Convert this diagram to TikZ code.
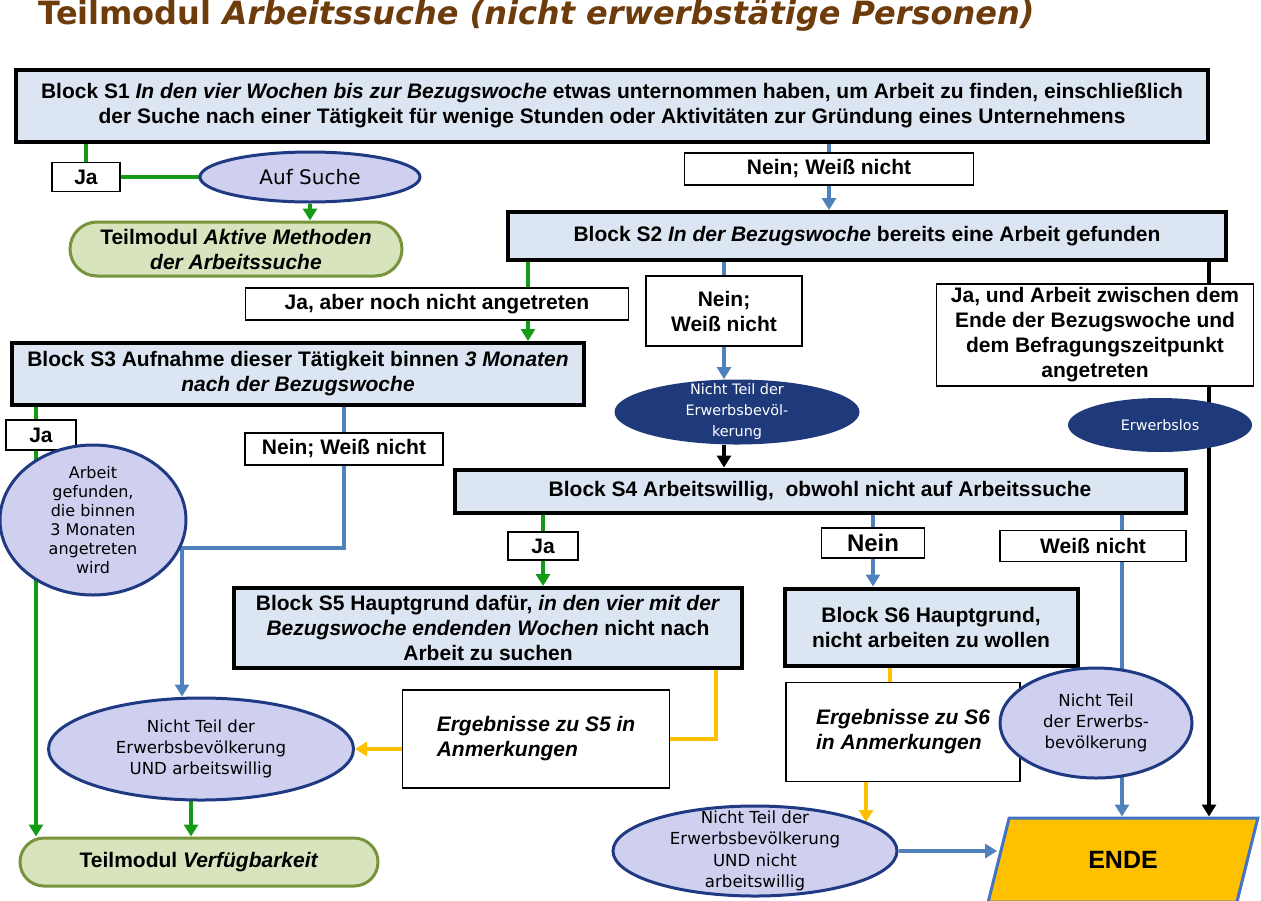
\documentclass[tikz,border=0pt]{standalone}
\usepackage{fontspec}
\setmainfont{Liberation Sans}
\newfontfamily\verdana{DejaVu Sans}
\usetikzlibrary{arrows.meta, positioning, shapes.geometric, shapes.misc, backgrounds}
\definecolor{TitleBrown}{HTML}{6E3B0B}
\definecolor{BlockFill}{HTML}{DCE6F2}
\definecolor{OvalFill}{HTML}{CFD0F0}
\definecolor{OvalLine}{HTML}{1F3A82}
\definecolor{Navy}{HTML}{1F3A7A}
\definecolor{ModulFill}{HTML}{D7E4BD}
\definecolor{ModulLine}{HTML}{77933C}
\definecolor{GreenLine}{HTML}{159A15}
\definecolor{BlueLine}{HTML}{4F81BD}
\definecolor{OrangeLine}{HTML}{FFC000}
\definecolor{EndeLine}{HTML}{4472C4}

\begin{document}
\begin{tikzpicture}[x=0.5pt, y=-0.5pt,
    block/.style={rectangle, draw=black, fill=BlockFill, line width=2pt, align=center, inner sep=0pt, font=\bfseries\fontsize{10.5}{12.5}\selectfont},
    answer/.style={rectangle, draw=black, fill=white, line width=0.6pt, align=center, inner sep=0pt, font=\bfseries\fontsize{10.5}{12.5}\selectfont},
    note/.style={rectangle, draw=black, fill=white, line width=0.6pt, align=left, inner sep=0pt, font=\bfseries\itshape\fontsize{10.5}{12.5}\selectfont},
    oval/.style={ellipse, draw=OvalLine, fill=OvalFill, line width=1.5pt, align=center, inner sep=-40pt, font=\verdana\fontsize{8.3}{10.7}\selectfont},
    status/.style={ellipse, fill=Navy, text=white, align=center, inner sep=-40pt, font=\verdana\fontsize{7.2}{10.5}\selectfont},
    modul/.style={rounded rectangle, draw=ModulLine, fill=ModulFill, line width=1.5pt, align=center, inner sep=0pt, font=\bfseries\fontsize{10.5}{12.5}\selectfont},
    ende/.style={trapezium, trapezium left angle=76, trapezium right angle=104, draw=EndeLine, fill=OrangeLine, line width=1.5pt, font=\bfseries\fontsize{12.5}{14}\selectfont},
    gline/.style={line width=2.2pt, GreenLine},
    garrow/.style={-{Triangle[length=6pt, width=7pt]}, line width=2.2pt, GreenLine},
    barrow/.style={-{Triangle[length=6pt, width=7pt]}, line width=2.2pt, BlueLine},
    karrow/.style={-{Triangle[length=6pt, width=7pt]}, line width=2.2pt, black},
    oline/.style={line width=2.2pt, OrangeLine},
    oarrow/.style={-{Triangle[length=6pt, width=7pt]}, line width=2.2pt, OrangeLine},
]
\useasboundingbox (0,0) rectangle (1261,900);

% Title
\node[anchor=west, inner sep=0pt, text=TitleBrown, font=\verdana\bfseries\fontsize{16}{18}\selectfont] (titel) at (38,16) {Teilmodul \textit{Arbeitssuche (nicht erwerbstätige Personen)}};

% Blocks
\node[block, minimum width=596pt, minimum height=36pt] (s1) at (612,106) {Block S1 \textit{In den vier Wochen bis zur Bezugswoche} etwas unternommen haben, um Arbeit zu finden, einschließlich\\der Suche nach einer Tätigkeit für wenige Stunden oder Aktivitäten zur Gründung eines Unternehmens};
\node[block, minimum width=359pt, minimum height=24pt] (s2) at (867,236) {Block S2 \textit{In der Bezugswoche} bereits eine Arbeit gefunden};
\node[block, minimum width=286pt, minimum height=31pt] (s3) at (298,374) {Block S3 Aufnahme dieser Tätigkeit binnen \textit{3 Monaten}\\\textit{nach der Bezugswoche}};
\node[block, minimum width=365.5pt, minimum height=21.5pt] (s4) at (820,491) {Block S4 Arbeitswillig,\ \ obwohl nicht auf Arbeitssuche};
\node[block, minimum width=254pt, minimum height=40pt] (s5) at (488,628) {Block S5 Hauptgrund dafür, \textit{in den vier mit der}\\\textit{Bezugswoche endenden Wochen} nicht nach\\Arbeit zu suchen};
\node[block, minimum width=146.5pt, minimum height=38.5pt] (s6) at (931,627) {Block S6 Hauptgrund,\\nicht arbeiten zu wollen};

% Answers
\node[answer, minimum width=34pt, minimum height=14.5pt] (ja1) at (86,177) {Ja};
\node[answer, minimum width=144.5pt, minimum height=16pt] (nw1) at (829,169) {Nein; Weiß nicht};
\node[answer, minimum width=191.5pt, minimum height=16pt] (jaab) at (437,304) {Ja, aber noch nicht angetreten};
\node[answer, minimum width=78pt, minimum height=35pt] (nw2) at (724,311) {Nein;\\Weiß nicht};
\node[answer, minimum width=158.5pt, minimum height=51pt] (jaund) at (1095,335) {Ja, und Arbeit zwischen dem\\Ende der Bezugswoche und\\dem Befragungszeitpunkt\\angetreten};
\node[answer, minimum width=35pt, minimum height=15pt] (ja3) at (41,435) {Ja};
\node[answer, minimum width=99pt, minimum height=16pt] (nw3) at (344,449) {Nein; Weiß nicht};
\node[answer, minimum width=35pt, minimum height=14pt] (ja4) at (543,546) {Ja};
\node[answer, minimum width=51.5pt, minimum height=15pt, font=\bfseries\fontsize{12}{14}\selectfont] (nein4) at (873,543) {Nein};
\node[answer, minimum width=93pt, minimum height=15.5pt] (wn4) at (1093,546) {Weiß nicht};

% Notes
\node[note, minimum width=133.5pt, minimum height=49pt] (erg5) at (536,739) {Ergebnisse zu S5 in\\Anmerkungen};
\node[note, minimum width=117pt, minimum height=49.5pt] (erg6) at (903,732) {Ergebnisse zu S6\\in Anmerkungen};

% Ovals
\node[oval, minimum width=110pt, minimum height=25pt, font=\verdana\fontsize{10}{12}\selectfont] (such) at (310,177) {Auf Suche};
\node[oval, minimum width=93pt, minimum height=75pt, font=\verdana\fontsize{8}{9.5}\selectfont] (gef) at (93,520) {Arbeit\\gefunden,\\die binnen\\3 Monaten\\angetreten\\wird};
\node[oval, minimum width=152.5pt, minimum height=51pt] (ntw) at (201,749) {Nicht Teil der\\Erwerbsbevölkerung\\UND arbeitswillig};
\node[oval, minimum width=142pt, minimum height=45pt] (ntn) at (755,851) {Nicht Teil der\\Erwerbsbevölkerung\\UND nicht\\arbeitswillig};
\node[oval, minimum width=96pt, minimum height=55pt] (ntl2) at (1096,723) {Nicht Teil\\der Erwerbs-\\bevölkerung};
\node[status, minimum width=122.5pt, minimum height=32.5pt] (ntl1) at (737,412) {Nicht Teil der\\Erwerbsbevöl-\\kerung};
\node[status, minimum width=92pt, minimum height=27pt] (erwl) at (1160,425) {Erwerbslos};

% Teilmodule and end
\node[modul, minimum width=166pt, minimum height=27pt] (aktiv) at (236,249) {Teilmodul \textit{Aktive Methoden}\\\textit{der Arbeitssuche}};
\node[modul, minimum width=179pt, minimum height=24pt] (verf) at (199,862) {Teilmodul \textit{Verfügbarkeit}};
\node[ende, minimum width=135pt, minimum height=37pt] (ende) at (1123,860) {ENDE};

% Connectors
\begin{scope}[on background layer]
\coordinate (g2) at (528,260);
\coordinate (g3) at (36,405);
\coordinate (g5) at (191,800);
\coordinate (k2) at (1209,260);
\coordinate (k3) at (182,548);
\coordinate (b4) at (1122,513);
\coordinate (o5) at (716,668);
\coordinate (o6) at (890,665);
\coordinate (o7) at (866,782);
\coordinate (o8) at (866,822);

\draw[gline] (ja1 |- s1.south) -- (ja1.north);
\draw[gline] (ja1.east) -- (such.west);
\draw[garrow] (such.south) -- (such.south |- aktiv.north);
\draw[garrow] (g2) -- (g2 |- s3.north);
\draw[garrow] (g3) -- (g3 |- verf.north);
\draw[garrow] (ja4 |- s4.south) -- (ja4 |- s5.north);
\draw[garrow] (g5) -- (g5 |- verf.north);

\draw[barrow] (nw1 |- s1.south) -- (nw1 |- s2.north);
\draw[barrow] (nw2 |- s2.south) -- (nw2 |- ntl1.north);
\draw[barrow] (nw3 |- s3.south) |- (k3) -- (k3 |- ntw.north);
\draw[barrow] (nein4 |- s4.south) -- (nein4 |- s6.north);
\draw[barrow] (b4) -- (b4 |- ende.north);
\draw[barrow] (ntn.east) -- (ntn.east -| ende.west);

\draw[karrow] (k2) -- (k2 |- ende.north);
\draw[karrow] (nw2 |- ntl1.south) -- (nw2 |- s4.north);

\draw[oline] (o5) |- (erg5.east);
\draw[oarrow] (erg5.west |- ntw.east) -- (ntw.east);
\draw[oline] (o6) -- (o6 |- erg6.north);
\draw[oarrow] (o7) -- (o8);
\end{scope}

\end{tikzpicture}
\end{document}
